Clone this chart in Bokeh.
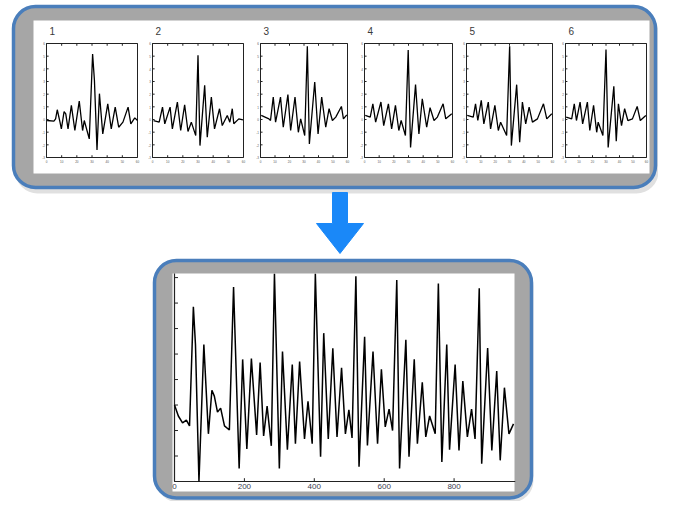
import numpy as np
from bokeh.plotting import figure
from bokeh.models import Range1d
from bokeh.core.properties import value
from bokeh.embed import file_html
from bokeh.resources import INLINE

# ---------------- data ----------------
PANEL_TITLES = ["1", "2", "3", "4", "5", "6"]

trace1_x = [0.4, 4.9, 6.0, 7.1, 8.9, 9.8, 11.6, 12.7, 14.2, 16.4, 18.7, 21.6, 23.8, 24.9, 28.2, 30.4, 31.6, 33.3, 34.9, 37.1, 40.4, 42.7, 45.3, 47.6, 50.4, 53.8, 55.6, 58.2, 60.0]
trace1_y = [-0.08, -0.13, 0.05, 0.77, -0.21, -0.74, 0.63, 0.45, -0.74, 1.11, -0.87, 1.45, -0.87, -0.08, -1.53, 5.16, 3.1, -2.41, 2.04, -1.14, 1.24, -0.74, 0.98, -0.61, -0.21, 0.98, -0.34, 0.13, -0.08]

trace2_x = [0.7, 4.4, 6.6, 8.1, 11.6, 13.1, 16.4, 18.6, 21.2, 23.4, 25.6, 28.5, 30.0, 31.3, 34.4, 36.1, 38.8, 40.9, 44.2, 46.0, 49.3, 51.0, 52.6, 53.6, 56.9, 59.6]
trace2_y = [-0.08, -0.21, 0.98, -0.34, 0.98, -0.74, 1.38, -0.87, 1.16, -0.95, -0.21, -1.27, 5.08, -2.06, 2.70, -1.40, 1.77, -0.74, 0.85, -0.48, 0.32, -0.21, 0.85, -0.34, 0.05, -0.03]

trace3_x = [0.5, 5.8, 6.9, 8.8, 10.4, 13.8, 15.7, 18.9, 20.8, 23.8, 26.1, 27.7, 30.5, 32.3, 33.7, 37.4, 39.7, 42.2, 45.0, 47.3, 49.6, 51.9, 55.8, 57.2, 59.5]
trace3_y = [0.32, 0.05, -0.08, 1.77, -0.21, 1.77, -0.61, 1.96, -0.87, 1.77, -1.01, 0.05, -1.27, 5.79, -1.93, 2.96, -1.14, 1.77, -0.61, 0.85, -0.08, 0.19, 1.03, 0.05, 0.37]

trace4_x = [0.5, 3.9, 5.7, 7.6, 11.2, 13.1, 16.3, 18.5, 21.1, 23.4, 25.0, 27.9, 29.8, 31.4, 34.8, 37.1, 39.4, 42.4, 44.7, 47.4, 49.7, 53.6, 55.4, 59.5]
trace4_y = [0.32, 0.19, 1.24, -0.21, 1.38, -0.48, 1.24, -0.74, 1.11, -0.87, -0.08, -1.27, 5.48, -2.20, 2.75, -1.14, 1.64, -0.61, 0.93, -0.08, 0.19, 1.24, 0.05, 0.45]

trace5_x = [0.5, 4.7, 6.3, 7.9, 10.3, 12.1, 15.2, 16.8, 19.8, 22.2, 23.8, 28.0, 30.1, 31.3, 35.0, 37.1, 39.0, 41.3, 43.7, 46.0, 49.5, 53.7, 56.0, 59.5]
trace5_y = [0.32, 0.19, 1.24, -0.08, 1.51, -0.34, 1.38, -0.74, 1.11, -0.87, -0.21, -1.27, 5.79, -2.06, 2.75, -1.80, 1.38, -0.34, 0.98, -0.21, 0.05, 1.24, 0.05, 0.45]

trace6_x = [0.5, 4.6, 6.5, 8.1, 10.8, 12.7, 16.2, 18.0, 20.8, 23.1, 24.2, 27.7, 30.0, 31.6, 35.8, 37.6, 39.2, 41.5, 43.8, 46.2, 49.6, 53.1, 55.4, 59.5]
trace6_y = [0.19, 0.05, 1.24, -0.08, 1.38, -0.34, 1.38, -0.87, 1.11, -1.01, -0.21, -1.27, 5.53, -2.20, 2.62, -1.72, 1.24, -0.48, 0.85, -0.08, 0.05, 1.03, -0.08, 0.32]

SMALL_XS = [trace1_x, trace2_x, trace3_x, trace4_x, trace5_x, trace6_x]
SMALL_YS = [trace1_y, trace2_y, trace3_y, trace4_y, trace5_y, trace6_y]
SMALL_X_TICKS = [0, 10, 20, 30, 40, 50, 60]
SMALL_Y_TICKS = [-3, -2, -1, 0, 1, 2, 3, 4, 5, 6]

big_x = [0, 11, 23, 34, 43, 54, 60, 70, 84, 97, 107, 114, 123, 132, 143, 157, 169, 185, 195, 207,
         220, 235, 245, 255, 265, 277, 286, 300, 309, 323, 337, 346, 358, 372, 382, 394, 403, 418,
         427, 440, 453, 465, 478, 489, 499, 508, 519, 528, 544, 552, 568, 581, 592, 603, 614, 624,
         636, 644, 662, 671, 686, 695, 709, 719, 730, 746, 755, 765, 779, 787, 803, 814, 825, 838,
         850, 860, 872, 879, 896, 908, 922, 932, 944, 957, 970]
big_y = [3.0, 2.57, 2.30, 2.41, 2.18, 6.85, 5.37, 0.0, 5.37, 1.87, 3.58, 3.35, 2.72, 2.88, 2.18, 2.02,
         7.63, 0.51, 4.79, 1.28, 4.82, 1.83, 4.67, 1.79, 2.96, 1.40, 8.15, 0.51, 5.10, 1.25, 4.59,
         1.48, 4.71, 1.67, 3.15, 1.48, 8.15, 0.97, 5.82, 1.67, 5.23, 1.75, 4.46, 1.87, 2.81, 1.71,
         8.05, 0.58, 5.68, 1.41, 5.10, 1.48, 4.40, 2.14, 2.84, 2.00, 7.90, 0.51, 5.56, 0.97, 4.79,
         1.48, 3.89, 1.75, 2.57, 1.87, 7.77, 0.77, 5.37, 1.25, 4.59, 1.22, 3.94, 1.75, 2.84, 1.67,
         7.58, 0.70, 5.24, 1.22, 4.33, 0.83, 3.68, 1.87, 2.26]
BIG_X_TICKS = [0, 200, 400, 600, 800]
BIG_X_LABELS = ["0", "200", "400", "600", "800"]
BIG_Y_TICKS = [0, 1, 2, 3, 4, 5, 6, 7, 8]

# ---------------- layout (picture pixel positions) ----------------
L = dict(
    small_left=[46, 152, 260, 364, 466, 565],
    small_right=[137, 243, 347, 452, 552, 646],
    small_top=43, small_bottom=157, title_y=30,
    big_left=174, big_right=513, big_top=273, big_bottom=481,
)
FONT = value("Liberation Sans")
BLUE_EDGE = "#4a7ebb"
GRAY = "#a6a6a6"

p = figure(width=658, height=501, x_range=Range1d(0, 658), y_range=Range1d(501, 0),
           output_backend="svg", toolbar_location=None, min_border=0,
           x_axis_location=None, y_axis_location=None)
p.grid.visible = False
p.outline_line_color = None
p.background_fill_color = "white"
p.border_fill_color = "white"

# top panel: shadow, gray rounded frame, white inner area
p.quad(left=[15], right=[658], top=[10], bottom=[193], fill_color="black", fill_alpha=0.12,
       line_color=None, border_radius=22)
p.quad(left=[13], right=[655], top=[6], bottom=[187], fill_color=GRAY, line_color=BLUE_EDGE,
       line_width=3.5, border_radius=22)
p.quad(left=[33], right=[649], top=[20], bottom=[173], fill_color="white", line_color=None)

# arrow
p.patch(x=[332, 347, 347, 363, 339.5, 316, 332], y=[192, 192, 223, 223, 253, 223, 223],
        fill_color="#1a88f8", line_color="#1a88f8")

# bottom panel
p.quad(left=[156], right=[533], top=[264], bottom=[502], fill_color="black", fill_alpha=0.12,
       line_color=None, border_radius=22)
p.quad(left=[154], right=[531], top=[260], bottom=[497.5], fill_color=GRAY, line_color=BLUE_EDGE,
       line_width=3.5, border_radius=22)
p.quad(left=[172], right=[514], top=[273], bottom=[491], fill_color="white", line_color=None)

# small titles
p.text(x=[l + 3 for l in L["small_left"]], y=[L["title_y"]] * 6, text=PANEL_TITLES,
       text_font=FONT, text_font_size="10px", text_color="#3a3a3a",
       text_baseline="middle", text_align="left")

# six small plots
for i in range(6):
    sp = p.subplot(x_source=Range1d(0, 60), y_source=Range1d(-3, 6),
                   x_target=Range1d(L["small_left"][i], L["small_right"][i]),
                   y_target=Range1d(L["small_bottom"], L["small_top"]))
    sp.quad(left=[0], right=[60], bottom=[-3], top=[6], fill_color=None,
            line_color="#222222", line_width=1)
    yt = SMALL_Y_TICKS
    sp.segment(x0=[0] * len(yt), x1=[1.4] * len(yt), y0=yt, y1=yt, line_color="#222222", line_width=1)
    xt = SMALL_X_TICKS
    sp.segment(x0=xt, x1=xt, y0=[6] * len(xt), y1=[5.82] * len(xt), line_color="#222222", line_width=1)
    sp.segment(x0=xt, x1=xt, y0=[-3] * len(xt), y1=[-2.82] * len(xt), line_color="#222222", line_width=1)
    sp.text(x=xt, y=[-3] * len(xt), text=[str(v) for v in xt], y_offset=2,
            text_font=FONT, text_font_size="3px", text_color="#555555",
            text_align="center", text_baseline="top")
    sp.text(x=[0] * len(yt), y=yt, text=[str(v) for v in yt], x_offset=-1.5,
            text_font=FONT, text_font_size="3px", text_color="#555555",
            text_align="right", text_baseline="middle")
    sp.line(SMALL_XS[i], SMALL_YS[i], line_color="black", line_width=1.3)

# big plot
bp = p.subplot(x_source=Range1d(0, 970), y_source=Range1d(0, 8.16),
               x_target=Range1d(L["big_left"], L["big_right"]),
               y_target=Range1d(L["big_bottom"], L["big_top"]))
bp.segment(x0=[0], x1=[0], y0=[0], y1=[8.16], line_color="#222222", line_width=1.2)
bp.segment(x0=[0], x1=[975], y0=[0], y1=[0], line_color="#222222", line_width=1.2)
bp.segment(x0=[0] * len(BIG_Y_TICKS), x1=[10] * len(BIG_Y_TICKS), y0=BIG_Y_TICKS, y1=BIG_Y_TICKS,
           line_color="#222222", line_width=1)
bp.segment(x0=BIG_X_TICKS, x1=BIG_X_TICKS, y0=[0] * 5, y1=[0.13] * 5, line_color="#222222", line_width=1)
bp.text(x=BIG_X_TICKS, y=[0] * 5, text=BIG_X_LABELS, y_offset=2,
        text_font=FONT, text_font_size="8px", text_color="#3c3c50",
        text_align="center", text_baseline="top")
bp.line(big_x, big_y, line_color="black", line_width=1.5)

open("out.html", "w").write(file_html(p, INLINE))
